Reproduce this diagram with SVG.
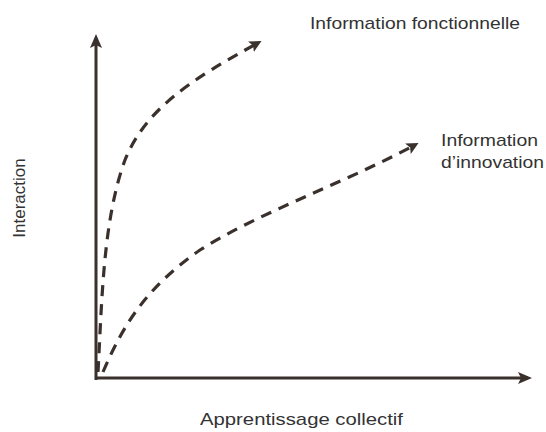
<svg xmlns="http://www.w3.org/2000/svg" width="546" height="432" viewBox="0 0 546 432">
<style>
.ax{stroke:#3a302c;stroke-width:3;fill:none}
.cv{stroke:#3a302c;stroke-width:3.2;fill:none;stroke-dasharray:11 8}
text{font-family:"Liberation Sans",Arial,sans-serif;font-size:17px;fill:#333}
</style>
<defs>
<marker id="ah" markerWidth="12" markerHeight="12" refX="8" refY="6" orient="auto" markerUnits="userSpaceOnUse" viewBox="0 0 12 12">
<path d="M0,0 L12,6 L0,12 L2.5,6 z" fill="#3a302c"/>
</marker>
<marker id="ah2" markerWidth="14" markerHeight="12" refX="10" refY="6" orient="auto" markerUnits="userSpaceOnUse" viewBox="0 0 14 12">
<path d="M0,0 L14,6 L0,12 L3,6 z" fill="#3a302c"/>
</marker>
</defs>
<g id="connectors">
<line class="ax" x1="96" y1="380" x2="96" y2="38" marker-end="url(#ah2)"/>
<line class="ax" x1="95" y1="378" x2="528" y2="378" marker-end="url(#ah2)"/>
<path class="cv" d="M98 372 C102 300,103 220,125 160 C145 110,190 80,258 43" marker-end="url(#ah)"/>
<path class="cv" d="M103 372 C125 320,150 285,200 250 C260 212,340 185,415 145" marker-end="url(#ah)"/>
</g>
<g id="label-fonctionnelle"><text x="310" y="29" textLength="210" lengthAdjust="spacingAndGlyphs">Information fonctionnelle</text></g>
<g id="label-innovation"><text x="441" y="146" textLength="97" lengthAdjust="spacingAndGlyphs">Information</text><text x="441" y="168" textLength="103" lengthAdjust="spacingAndGlyphs">d’innovation</text></g>
<g id="label-y"><text transform="translate(25,198) rotate(-90)" text-anchor="middle">Interaction</text></g>
<g id="label-x"><text x="200" y="425" textLength="203" lengthAdjust="spacingAndGlyphs">Apprentissage collectif</text></g>
</svg>
